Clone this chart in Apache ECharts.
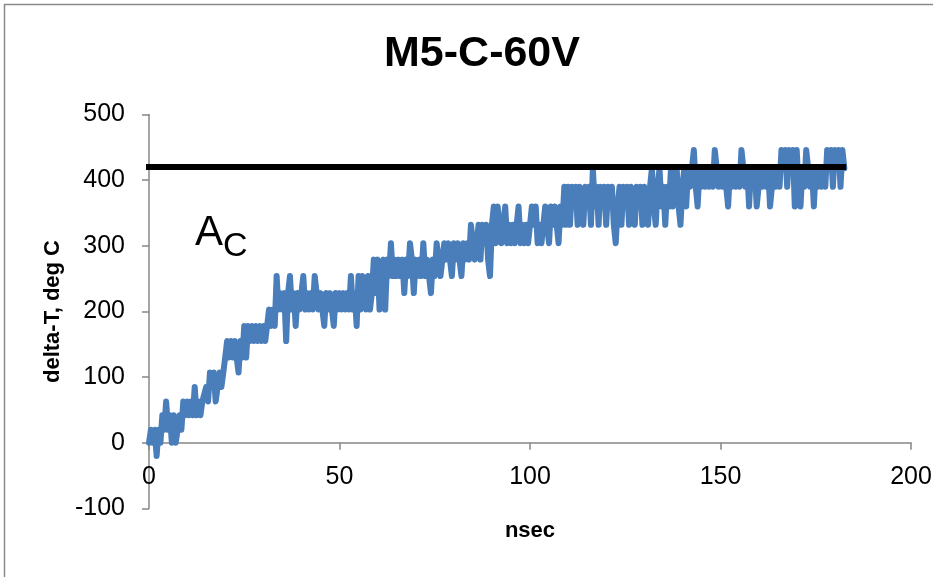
<!DOCTYPE html>
<html>
<head>
<meta charset="utf-8">
<title>M5-C-60V</title>
<script src="https://cdn.jsdelivr.net/npm/echarts@6/dist/echarts.min.js"></script>
<style>
html,body{margin:0;padding:0;background:#fff;}
#main{width:933px;height:577px;}
</style>
</head>
<body>
<div id="main"></div>
<script>
// sample spacing, nsec
var dtNs = 0.5;
// delta-T readings, deg C (one every dtNs, starting at 0)
var deltaT = [
    0,20,0,20,-20,20,0,42,20,63,
    20,42,0,42,0,20,42,20,63,42,
    63,42,63,42,85,42,63,42,63,63,
    85,63,107,85,107,63,85,107,85,107,
    130,155,130,155,130,155,130,107,155,130,
    178,130,178,155,178,155,178,155,178,155,
    178,155,178,203,178,203,178,254,203,228,
    203,228,155,228,254,203,228,178,228,203,
    228,254,203,228,203,228,203,254,228,203,
    228,203,178,228,203,228,203,178,228,203,
    228,203,228,203,228,203,254,203,228,178,
    254,203,254,228,203,254,203,228,279,228,
    279,203,254,279,203,279,254,304,254,279,
    254,279,254,279,228,279,254,304,279,228,
    279,254,279,254,304,254,279,254,228,279,
    254,304,279,254,279,304,279,304,279,254,
    304,279,304,279,254,304,279,304,279,332,
    304,279,304,332,279,332,304,332,279,254,
    332,360,304,360,332,304,332,360,304,332,
    304,332,304,332,360,304,332,304,332,304,
    332,360,332,360,304,332,304,332,360,332,
    304,360,332,360,332,304,360,332,390,332,
    390,332,390,360,390,332,390,360,332,390,
    360,390,332,418,360,390,332,390,360,390,
    332,390,360,390,332,304,360,390,332,390,
    360,390,332,390,360,332,390,360,390,332,
    390,360,332,390,418,360,332,390,418,360,
    390,332,390,360,418,360,390,418,360,332,
    390,418,360,418,390,418,446,390,360,418,
    390,418,390,418,390,418,390,446,418,390,
    418,390,418,390,360,418,390,418,390,418,
    390,446,418,390,418,360,418,390,418,360,
    390,418,390,418,390,418,360,390,418,390,
    418,390,446,418,446,390,446,418,446,360,
    446,390,360,418,390,446,418,390,418,360,
    418,390,418,390,418,390,446,418,446,390,
    446,418,446,390,446,418
];
// A_C level line
var acLevel = 420;
var acSpan = [-22, 183];
// axes
var xRange = [0, 200, 50];
var yRange = [-100, 500, 100];

function drawChart(){
    var myChart = echarts.init(document.getElementById('main'), null, {renderer:'canvas'});
    var pts = [];
    $each(deltaT, function(i, v){ pts.push([i * dtNs, v]); });
    var acLine = [[acSpan[0], acLevel], [acSpan[1], acLevel]];
    var axisGray = '#878787';
    // x axis sits on y=0, i.e. one y-step above the bottom of the plot
    var zeroOffset = -(508.5 - 114.5) * (0 - yRange[0]) / (yRange[1] - yRange[0]);
    var option = {
        animation: false,
        backgroundColor: '#fff',
        title: {
            text: 'M5-C-60V',
            left: 482,
            top: 33,
            padding: 0,
            textAlign: 'center',
            textStyle: {fontFamily: 'Liberation Sans', fontWeight: 'bold', fontSize: 43, color: '#000'}
        },
        grid: {left: 149, right: 22, top: 114.5, bottom: 68.5, outerBoundsMode: 'none', containLabel: false},
        xAxis: {
            type: 'value',
            position: 'bottom',
            offset: zeroOffset,
            min: xRange[0], max: xRange[1], interval: xRange[2],
            name: 'nsec',
            nameLocation: 'middle',
            nameGap: 77,
            nameTextStyle: {fontFamily: 'Liberation Sans', fontWeight: 'bold', fontSize: 22, color: '#000'},
            axisLine: {onZero: false, lineStyle: {color: axisGray, width: 1.5}},
            axisTick: {show: true, inside: false, length: 7, lineStyle: {color: axisGray, width: 1.5}},
            axisLabel: {margin: 22, fontFamily: 'Liberation Sans', fontSize: 25, color: '#000'},
            splitLine: {show: false}
        },
        yAxis: {
            type: 'value',
            min: yRange[0], max: yRange[1], interval: yRange[2],
            name: 'delta-T, deg C',
            nameLocation: 'middle',
            nameGap: 81,
            nameTextStyle: {fontFamily: 'Liberation Sans', fontWeight: 'bold', fontSize: 22, color: '#000'},
            axisLine: {show: true, onZero: false, lineStyle: {color: axisGray, width: 1.5}},
            axisTick: {show: true, inside: false, length: 7, lineStyle: {color: axisGray, width: 1.5}},
            axisLabel: {margin: 24, fontFamily: 'Liberation Sans', fontSize: 25, color: '#000'},
            splitLine: {show: false}
        },
        series: [
            {
                name: 'delta-T',
                type: 'line',
                data: pts,
                symbol: 'none',
                sampling: null,
                lineStyle: {color: '#4a7ebb', width: 6, cap: 'round', join: 'round'},
                z: 2
            },
            {
                name: 'A_C',
                type: 'line',
                data: acLine,
                symbol: 'none',
                clip: false,
                lineStyle: {color: '#000', width: 6},
                z: 3
            }
        ],
        graphic: [
            // outer chart border
            {type: 'rect', shape: {x: 4.5, y: 4.5, width: 1000, height: 1000}, style: {fill: null, stroke: '#8a8a8a', lineWidth: 1.5}, silent: true},
            // A with subscript C
            {type: 'text', left: 195, top: 212, style: {text: 'A', font: '42px "Liberation Sans"', fill: '#000'}},
            {type: 'text', left: 223, top: 230, style: {text: 'C', font: '34px "Liberation Sans"', fill: '#000'}}
        ]
    };
    myChart.setOption(option);
}

// small each helper
function $each(arr, fn){
    for (var i = 0; i < arr.length; i++) fn(i, arr[i]);
}

drawChart();
</script>
</body>
</html>
